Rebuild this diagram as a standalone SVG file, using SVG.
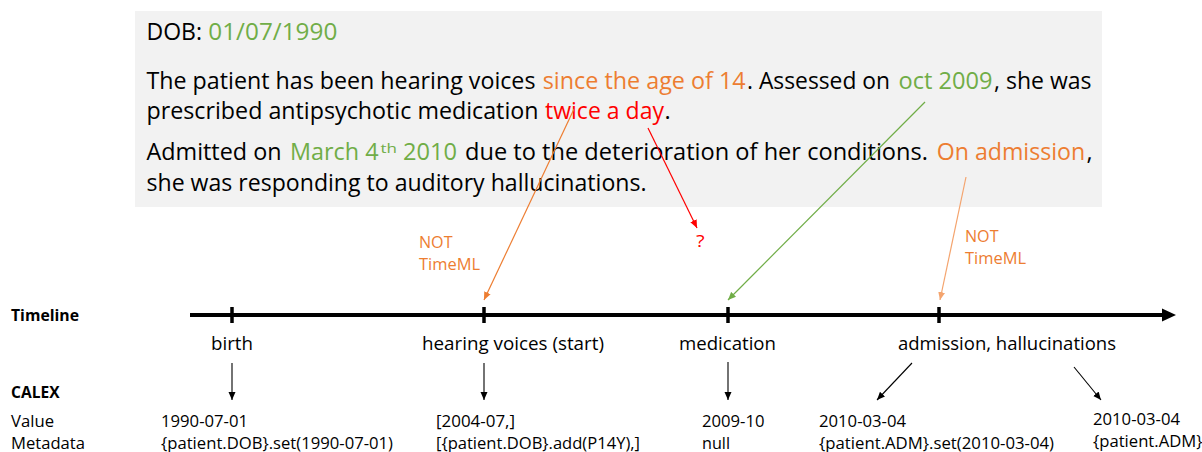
<svg xmlns="http://www.w3.org/2000/svg" width="1202" height="452" viewBox="0 0 1202 452">
  <style>
    text { font-family: "Open Sans", "Liberation Sans", sans-serif; fill: #000; }
    .body { font-size: 23.5px; }
    .sup { font-size: 13px; }
    .ev { font-size: 18.8px; }
    .val { font-size: 16.5px; }
    .lab { font-size: 16.5px; font-weight: bold; }
    .note { font-size: 16.5px; fill: #ED7D31; }
    .grn { fill: #70AD47; }
    .org { fill: #ED7D31; }
    .red { fill: #FF0000; }
    .link { fill: none; stroke-width: 1.2; }
    .down { fill: none; stroke: #000; stroke-width: 1.1; marker-end: url(#ah-black); }
    .tick { stroke: #000; stroke-width: 3.5; }
  </style>
  <defs>
    <marker id="ah-black" markerUnits="userSpaceOnUse" markerWidth="8" markerHeight="8" refX="8" refY="4" orient="auto">
      <path d="M0,0.5 L8,4 L0,7.5 z" fill="#000"/>
    </marker>
    <marker id="ah-orange" markerUnits="userSpaceOnUse" markerWidth="8" markerHeight="8" refX="8" refY="4" orient="auto">
      <path d="M0,0.5 L8,4 L0,7.5 z" fill="#ED7D31"/>
    </marker>
    <marker id="ah-lorange" markerUnits="userSpaceOnUse" markerWidth="8" markerHeight="8" refX="8" refY="4" orient="auto">
      <path d="M0,0.5 L8,4 L0,7.5 z" fill="#F4A46E"/>
    </marker>
    <marker id="ah-red" markerUnits="userSpaceOnUse" markerWidth="8" markerHeight="8" refX="8" refY="4" orient="auto">
      <path d="M0,0.5 L8,4 L0,7.5 z" fill="#FF0000"/>
    </marker>
    <marker id="ah-green" markerUnits="userSpaceOnUse" markerWidth="8" markerHeight="8" refX="8" refY="4" orient="auto">
      <path d="M0,0.5 L8,4 L0,7.5 z" fill="#70AD47"/>
    </marker>
  </defs>

  <rect width="1202" height="452" fill="#fff"/>

  <!-- clinical note excerpt -->
  <g id="note-text">
    <rect x="135" y="11" width="967" height="196" fill="#F2F2F2"/>
    <text class="body" x="146.5" y="40" textLength="55.5" lengthAdjust="spacingAndGlyphs">DOB:</text>
    <text class="body grn" x="208.3" y="40" textLength="129" lengthAdjust="spacingAndGlyphs">01/07/1990</text>

    <text class="body" x="146.5" y="89" textLength="389" lengthAdjust="spacingAndGlyphs">The patient has been hearing voices</text>
    <text class="body org" x="542.7" y="89" textLength="203" lengthAdjust="spacingAndGlyphs">since the age of 14</text>
    <text class="body" x="747" y="89" textLength="143" lengthAdjust="spacingAndGlyphs">. Assessed on</text>
    <text class="body grn" x="898.5" y="89" textLength="94" lengthAdjust="spacingAndGlyphs">oct 2009</text>
    <text class="body" x="994" y="89" textLength="97.5" lengthAdjust="spacingAndGlyphs">, she was</text>

    <text class="body" x="146.5" y="119" textLength="392" lengthAdjust="spacingAndGlyphs">prescribed antipsychotic medication</text>
    <text class="body red" x="545" y="119" textLength="119" lengthAdjust="spacingAndGlyphs">twice a day</text>
    <text class="body" x="664.5" y="119">.</text>

    <text class="body" x="146.5" y="160" textLength="135" lengthAdjust="spacingAndGlyphs">Admitted on</text>
    <text class="body grn" x="290" y="160" textLength="88.5" lengthAdjust="spacingAndGlyphs">March 4</text>
    <text class="sup grn" x="380.5" y="152.5" textLength="16.5" lengthAdjust="spacingAndGlyphs">th</text>
    <text class="body grn" x="403" y="160" textLength="54" lengthAdjust="spacingAndGlyphs">2010</text>
    <text class="body" x="465" y="160" textLength="463" lengthAdjust="spacingAndGlyphs">due to the deterioration of her conditions.</text>
    <text class="body org" x="936.7" y="160" textLength="148.5" lengthAdjust="spacingAndGlyphs">On admission</text>
    <text class="body" x="1086.5" y="160">,</text>

    <text class="body" x="146.5" y="191" textLength="500" lengthAdjust="spacingAndGlyphs">she was responding to auditory hallucinations.</text>
  </g>

  <!-- row labels -->
  <g id="row-labels">
    <text class="lab" x="11" y="321" textLength="68" lengthAdjust="spacingAndGlyphs">Timeline</text>
    <text class="lab" x="11" y="398" textLength="48.5" lengthAdjust="spacingAndGlyphs">CALEX</text>
    <text class="val" x="11" y="427" textLength="43" lengthAdjust="spacingAndGlyphs">Value</text>
    <text class="val" x="11" y="449" textLength="74" lengthAdjust="spacingAndGlyphs">Metadata</text>
  </g>

  <!-- time axis -->
  <g id="timeline">
    <line x1="190" y1="315" x2="1164" y2="315" stroke="#000" stroke-width="4"/>
    <polygon points="1162,308.5 1176,315 1162,321.5" fill="#000"/>
    <line class="tick" x1="232" y1="307" x2="232" y2="323"/>
    <line class="tick" x1="484" y1="307" x2="484" y2="323"/>
    <line class="tick" x1="728" y1="307" x2="728" y2="323"/>
    <line class="tick" x1="939" y1="307" x2="939" y2="323"/>
  </g>

  <!-- annotations beside the incoming links -->
  <g id="note-left">
    <text class="note" x="419" y="248" textLength="33.5" lengthAdjust="spacingAndGlyphs">NOT</text>
    <text class="note" x="419" y="270" textLength="61" lengthAdjust="spacingAndGlyphs">TimeML</text>
  </g>
  <g id="note-right">
    <text class="note" x="965" y="242" textLength="33.5" lengthAdjust="spacingAndGlyphs">NOT</text>
    <text class="note" x="965" y="264" textLength="61" lengthAdjust="spacingAndGlyphs">TimeML</text>
  </g>
  <g id="unknown">
    <text class="val red" x="696" y="247" textLength="8.6" lengthAdjust="spacingAndGlyphs">?</text>
  </g>

  <!-- events -->
  <g id="event-birth">
    <text class="ev" x="211" y="350" textLength="42" lengthAdjust="spacingAndGlyphs">birth</text>
    <text class="val" x="161" y="427" textLength="87" lengthAdjust="spacingAndGlyphs">1990-07-01</text>
    <text class="val" x="161" y="449" textLength="232" lengthAdjust="spacingAndGlyphs">{patient.DOB}.set(1990-07-01)</text>
  </g>
  <g id="event-voices">
    <text class="ev" x="422" y="350" textLength="182" lengthAdjust="spacingAndGlyphs">hearing voices (start)</text>
    <text class="val" x="436" y="427" textLength="79" lengthAdjust="spacingAndGlyphs">[2004-07,]</text>
    <text class="val" x="436" y="449" textLength="204" lengthAdjust="spacingAndGlyphs">[{patient.DOB}.add(P14Y),]</text>
  </g>
  <g id="event-medication">
    <text class="ev" x="679" y="350" textLength="97" lengthAdjust="spacingAndGlyphs">medication</text>
    <text class="val" x="702" y="427" textLength="62.5" lengthAdjust="spacingAndGlyphs">2009-10</text>
    <text class="val" x="702" y="449" textLength="28" lengthAdjust="spacingAndGlyphs">null</text>
  </g>
  <g id="event-admission">
    <text class="ev" x="898" y="350" textLength="218" lengthAdjust="spacingAndGlyphs">admission, hallucinations</text>
    <text class="val" x="819" y="427" textLength="87" lengthAdjust="spacingAndGlyphs">2010-03-04</text>
    <text class="val" x="819" y="449" textLength="235" lengthAdjust="spacingAndGlyphs">{patient.ADM}.set(2010-03-04)</text>
    <text class="val" x="1093" y="425" textLength="87" lengthAdjust="spacingAndGlyphs">2010-03-04</text>
    <text class="val" x="1093" y="447" textLength="109.5" lengthAdjust="spacingAndGlyphs">{patient.ADM}</text>
  </g>

  <!-- connectors -->
  <g id="connectors">
    <line class="link" x1="574" y1="109" x2="484" y2="300" stroke="#ED7D31" marker-end="url(#ah-orange)"/>
    <line class="link" x1="648" y1="128" x2="697" y2="228" stroke="#FF0000" marker-end="url(#ah-red)"/>
    <line class="link" x1="925" y1="102" x2="728" y2="300" stroke="#70AD47" marker-end="url(#ah-green)"/>
    <line class="link" x1="966" y1="177" x2="940" y2="300" stroke="#F4A46E" marker-end="url(#ah-lorange)"/>
    <line class="down" x1="232" y1="363" x2="232" y2="400"/>
    <line class="down" x1="484" y1="363" x2="484" y2="400"/>
    <line class="down" x1="728" y1="362" x2="728" y2="400"/>
    <line class="down" x1="912" y1="363" x2="877" y2="400"/>
    <line class="down" x1="1074" y1="367" x2="1101" y2="400"/>
  </g>
</svg>
